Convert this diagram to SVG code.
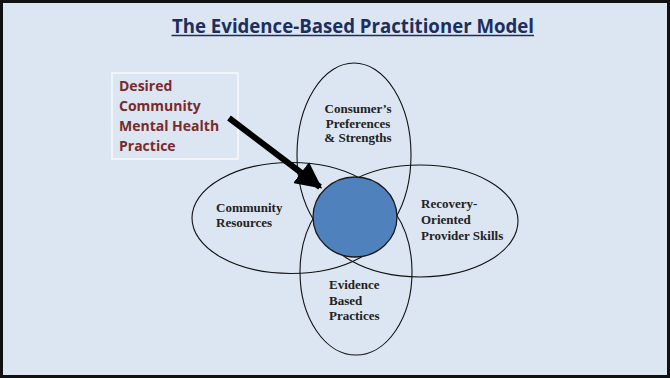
<svg xmlns="http://www.w3.org/2000/svg" width="670" height="378" viewBox="0 0 670 378">
  <style>
    .ring { fill: none; stroke: #111; stroke-width: 1.1; }
    .lbl { font-family: "Liberation Serif", "Times New Roman", serif; font-weight: bold; font-size: 13px; fill: #222; }
    .desired { font-family: "Open Sans", "Liberation Sans", sans-serif; font-weight: bold; font-size: 14px; fill: #7b2a2a; }
  </style>
  <defs>
    <marker id="head" viewBox="0 0 10 10" refX="9" refY="5" markerWidth="4.4" markerHeight="4.4" markerUnits="strokeWidth" orient="auto">
      <path d="M0,0 L10,5 L0,10 z" fill="#000"/>
    </marker>
  </defs>

  <!-- slide background and frame -->
  <rect x="1.5" y="1.5" width="667" height="375" fill="#dce6f2" stroke="#111" stroke-width="3"/>

  <!-- title -->
  <g id="title">
    <text x="172" y="32.5" font-family="Open Sans, Liberation Sans, sans-serif" font-weight="bold" font-size="19" fill="#1c2f5e" textLength="362" lengthAdjust="spacingAndGlyphs">The Evidence-Based Practitioner Model</text>
    <line x1="171.5" y1="35.5" x2="534" y2="35.5" stroke="#1c2f5e" stroke-width="1.5"/>
  </g>

  <!-- callout box -->
  <g id="desired-practice">
    <rect x="112" y="73" width="126" height="86" fill="#dce6f2" stroke="#fff" stroke-width="1.2"/>
    <text class="desired" x="119" y="91">Desired</text>
    <text class="desired" x="119" y="111">Community</text>
    <text class="desired" x="119" y="131">Mental Health</text>
    <text class="desired" x="119" y="151">Practice</text>
  </g>

  <!-- four overlapping domains -->
  <g id="consumer">
    <ellipse class="ring" cx="354" cy="155" rx="57" ry="92"/>
    <text class="lbl" x="358" y="113" text-anchor="middle">Consumer’s</text>
    <text class="lbl" x="358" y="128" text-anchor="middle">Preferences</text>
    <text class="lbl" x="358" y="142" text-anchor="middle">&amp; Strengths</text>
  </g>
  <g id="community">
    <ellipse class="ring" cx="291" cy="218" rx="99" ry="55.5"/>
    <text class="lbl" x="216" y="212">Community</text>
    <text class="lbl" x="216" y="227">Resources</text>
  </g>
  <g id="recovery">
    <ellipse class="ring" cx="420" cy="221" rx="98" ry="56"/>
    <text class="lbl" x="421" y="208">Recovery-</text>
    <text class="lbl" x="421" y="224">Oriented</text>
    <text class="lbl" x="421" y="240">Provider Skills</text>
  </g>
  <g id="evidence">
    <ellipse class="ring" cx="356" cy="272" rx="56" ry="83"/>
    <text class="lbl" x="329" y="289">Evidence</text>
    <text class="lbl" x="329" y="305">Based</text>
    <text class="lbl" x="329" y="320">Practices</text>
  </g>

  <!-- shared centre -->
  <g id="centre">
    <ellipse cx="355" cy="217" rx="42" ry="40" fill="#4f81bd" stroke="#1a1a1a" stroke-width="1.3"/>
  </g>

  <!-- connectors -->
  <g id="connectors">
    <line x1="229" y1="118" x2="320" y2="187" stroke="#000" stroke-width="6" marker-end="url(#head)"/>
  </g>
</svg>
